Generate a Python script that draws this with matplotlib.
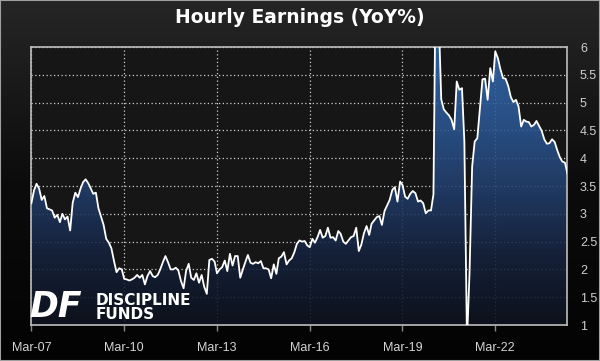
import numpy as np
import pandas as pd
import matplotlib
matplotlib.use("Agg")
import matplotlib.pyplot as plt
import matplotlib.dates as mdates
from matplotlib.colors import LinearSegmentedColormap
from matplotlib.patches import Rectangle

# monthly average hourly earnings, YoY %
START = "2007-03-01"
yoy_2007_2010 = [3.19, 3.42, 3.54, 3.45, 3.25, 3.32, 3.10, 3.08, 3.06, 2.93, 2.98, 2.85,
                 3.00, 2.90, 2.95, 2.70, 3.20, 3.38, 3.30, 3.45, 3.57, 3.62, 3.55, 3.45,
                 3.36, 3.38, 3.10, 2.95, 2.80, 2.55, 2.48, 2.38, 2.15, 1.95, 2.02, 2.00,
                 1.83]
yoy_2010_2013 = [1.82, 1.80, 1.82, 1.85, 1.90, 1.85, 1.90, 1.73, 1.88, 1.97, 1.88, 1.86,
                 1.90, 2.00, 2.13, 2.24, 2.13, 2.00, 2.00, 2.03, 1.98, 1.79, 1.66, 1.97,
                 2.10, 1.85, 1.81, 1.93, 1.76, 1.90, 1.69, 1.56, 2.17, 2.19, 2.14, 1.93,
                 2.00, 2.04, 2.16, 1.97, 2.28, 2.07, 2.24, 2.24]
yoy_2013_2019 = [1.85, 2.00, 2.14, 2.26, 2.12, 2.10, 2.13, 2.11, 2.15, 2.02, 2.02, 2.00,
                 1.84, 2.09, 1.92, 2.20, 2.23, 2.31, 2.09, 2.16, 2.20, 2.31, 2.46, 2.52,
                 2.50, 2.51, 2.43, 2.40, 2.55, 2.48, 2.58, 2.71, 2.57, 2.60, 2.75, 2.57,
                 2.58, 2.52, 2.69, 2.64, 2.50, 2.46, 2.52, 2.58, 2.60, 2.75, 2.33, 2.45,
                 2.65, 2.78, 2.62, 2.82, 2.88, 2.94, 2.96, 2.80, 3.05, 3.15, 3.25, 3.43,
                 3.48, 3.22, 3.58]
yoy_2019_2024 = [3.52, 3.31, 3.27, 3.36, 3.41, 3.37, 3.22, 3.24, 3.19, 3.01, 3.06, 3.06,
                 3.35, 8.00, 6.60, 5.06, 4.88, 4.82, 4.77, 4.69, 4.52, 5.38, 5.23, 5.26,
                 4.30, 0.70, 1.93, 3.85, 4.30, 4.36, 4.90, 5.42, 5.43, 5.05, 5.62, 5.38,
                 5.92, 5.80, 5.60, 5.44, 5.43, 5.30, 5.10, 5.01, 5.05, 4.93, 4.57, 4.69,
                 4.66, 4.65, 4.57, 4.60, 4.67, 4.58, 4.49, 4.34, 4.26, 4.27, 4.34, 4.29,
                 4.15, 4.02, 3.94, 3.92, 3.72]

yoy = yoy_2007_2010 + yoy_2010_2013 + yoy_2013_2019 + yoy_2019_2024
dates = pd.date_range(START, periods=len(yoy), freq="MS")

tick_dates = pd.to_datetime(["2007-03-01", "2010-03-01", "2013-03-01",
                             "2016-03-01", "2019-03-01", "2022-03-01"])
tick_labels = [d.strftime("%b-%y") for d in tick_dates]
y_ticks = [1, 1.5, 2, 2.5, 3, 3.5, 4, 4.5, 5, 5.5, 6]
y_labels = ["1", "1.5", "2", "2.5", "3", "3.5", "4", "4.5", "5", "5.5", "6"]

fig = plt.figure(figsize=(6, 3.61), dpi=100)

# dark background, lighter at the top
bg = fig.add_axes([0, 0, 1, 1], zorder=-10)
bg_map = LinearSegmentedColormap.from_list("bg", ["#030303", "#0c0c0c", "#262626"])
bg.imshow(np.linspace(1, 0, 256).reshape(-1, 1), cmap=bg_map, aspect="auto",
          extent=[0, 1, 0, 1])
bg.axis("off")

ax = fig.add_axes([0.0523, 0.0997, 0.8935, 0.7701])
ax.set_facecolor("#161616")

x = mdates.date2num(dates)
poly = ax.fill_between(x, yoy, 0, facecolor="none", edgecolor="none")
fill_map = LinearSegmentedColormap.from_list(
    "fill", ["#0c111c", "#15223d", "#22406f", "#2d5a98", "#3068ad"])
grad = np.linspace(0, 1, 256).reshape(-1, 1)
img = ax.imshow(grad, extent=[x[0], x[-1], 1, 6], origin="lower", aspect="auto",
                cmap=fill_map, alpha=0.88, zorder=2)
img.set_clip_path(poly.get_paths()[0], ax.transData)

ax.plot(x, yoy, color="white", lw=1.3, zorder=3)

ax.set_xlim(x[0], x[-1])
ax.set_ylim(1, 6)
ax.set_xticks(mdates.date2num(tick_dates))
ax.set_xticklabels(tick_labels, fontfamily="Liberation Sans")
ax.set_yticks(y_ticks)
ax.set_yticklabels(y_labels, fontfamily="Liberation Sans")
ax.yaxis.tick_right()

ax.set_axisbelow(True)
ax.grid(color="#d0d0d0", linestyle=(0, (1, 2)), linewidth=0.9)
ax.tick_params(axis="x", colors="#8a8a8a", length=4, width=1, pad=8,
               labelcolor="#d4d4d4", labelsize=9)
ax.tick_params(axis="y", length=0, pad=9, labelcolor="#cfcfcf", labelsize=9)
for lab in ax.get_yticklabels():
    lab.set_ha("left")
for s in ax.spines.values():
    s.set_color("#bdbdbd")
    s.set_linewidth(1.2)

fig.text(0.5, 0.952, "Hourly Earnings (YoY%)", ha="center", va="center",
         color="white", fontsize=13.5, fontweight="bold")

# logo
fig.text(0.048, 0.150, "DF", ha="left", va="center", color="white",
         fontsize=25, fontweight="heavy", style="italic")
fig.text(0.160, 0.168, "DISCIPLINE", ha="left", va="center", color="white",
         fontsize=11, fontweight="bold")
fig.text(0.160, 0.128, "FUNDS", ha="left", va="center", color="white",
         fontsize=11, fontweight="bold")

fig.patches.append(Rectangle((0, 0), 1, 1, transform=fig.transFigure, fill=False,
                             edgecolor="#a0a0a0", linewidth=1.5))

fig.savefig("out.png", dpi=100)
